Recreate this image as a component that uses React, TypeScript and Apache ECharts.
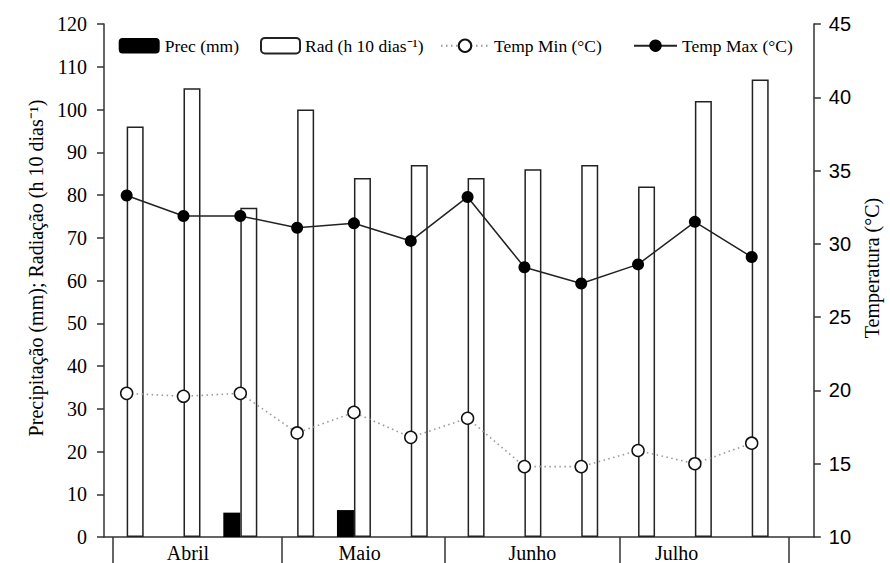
import React, { useEffect, useRef } from 'react';
import * as echarts from 'echarts';

// Ten-day periods (decêndios), April to July
const dekads = ['Abr-1', 'Abr-2', 'Abr-3', 'Mai-1', 'Mai-2', 'Mai-3', 'Jun-1', 'Jun-2', 'Jun-3', 'Jul-1', 'Jul-2', 'Jul-3'];
const months = ['Abril', 'Maio', 'Junho', 'Julho'];

const prec = [0, 0, 5.7, 0, 6.3, 0, 0, 0, 0, 0, 0, 0];
const rad = [96, 105, 77, 100, 84, 87, 84, 86, 87, 82, 102, 107];
const tempMin = [19.8, 19.6, 19.8, 17.1, 18.5, 16.8, 18.1, 14.8, 14.8, 15.9, 15.0, 16.4];
const tempMax = [33.3, 31.9, 31.9, 31.1, 31.4, 30.2, 33.2, 28.4, 27.3, 28.6, 31.5, 29.1];

const SERIF = 'Liberation Serif';
const SANS = 'Liberation Sans';
const NB = '\u00A0\u00A0\u00A0\u00A0\u00A0';

export default function App() {
  const ref = useRef<HTMLDivElement>(null);

  useEffect(() => {
    if (!ref.current) return;
    const chart = echarts.init(ref.current, undefined, { renderer: 'svg' });

    const xMin = -0.399;
    const xMax = 12.094;
    const monthSeparators = [-0.253, 2.726, 5.597, 8.686, 11.646];
    const monthLabelPos = [1.078, 4.1, 7.14, 9.68];
    const axisColor = '#333';
    const axisLine = { show: true, onZero: false, lineStyle: { color: axisColor, width: 1.5 } };

    const legendText = { fontFamily: SERIF, fontSize: 17.5, color: '#000' };

    const option: any = {
      animation: false,
      backgroundColor: '#fff',
      textStyle: { fontFamily: SERIF, color: '#000' },
      grid: { left: 104, right: 75.5, top: 24, bottom: 26, containLabel: false },
      legend: [
        { data: ['Prec (mm)'], left: 118.7, top: 36.7, padding: 0, itemWidth: 41, itemHeight: 15.6, textStyle: legendText },
        { data: ['Rad (h 10 dias⁻¹)'], left: 260, top: 36.7, padding: 0, itemWidth: 39, itemHeight: 15.6, textStyle: legendText },
        { data: ['Temp Min (°C)'], left: 440, top: 36.7, padding: 0, itemWidth: 48, itemHeight: 15.6, textStyle: legendText },
        { data: ['Temp Max (°C)'], left: 633, top: 36.7, padding: 0, itemWidth: 43, itemHeight: 15.6, textStyle: legendText },
      ],
      xAxis: [
        {
          type: 'value', min: xMin, max: xMax, position: 'bottom',
          axisLine, axisTick: { show: false }, axisLabel: { show: false }, splitLine: { show: false },
        },
        {
          type: 'value', min: xMin, max: xMax, position: 'bottom',
          axisLine: { show: false, onZero: false },
          axisTick: { show: true, customValues: monthSeparators, length: 26, lineStyle: { color: axisColor, width: 1.5 } },
          axisLabel: {
            show: true,
            customValues: monthLabelPos,
            formatter: (v: number) => {
              const k = monthLabelPos.findIndex((p) => Math.abs(p - v) < 1e-6);
              return k >= 0 ? months[k] : '';
            },
            fontFamily: SERIF, fontSize: 20, color: '#000', margin: 6,
          },
          splitLine: { show: false },
        },
      ],
      yAxis: [
        {
          type: 'value', min: 0, max: 120, interval: 10, position: 'left',
          axisLine, axisTick: { show: true, length: 7, lineStyle: { color: axisColor, width: 1.5 } },
          axisLabel: { fontFamily: SERIF, fontSize: 20, color: '#000', margin: 17 },
          splitLine: { show: false },
          name: NB + 'Precipitação (mm); Radiação (h 10 dias⁻¹)',
          nameLocation: 'middle', nameGap: 56, nameRotate: 90,
          nameTextStyle: { fontFamily: SERIF, fontSize: 20, color: '#000' },
        },
        {
          type: 'value', min: 10, max: 45, interval: 5, position: 'right',
          axisLine, axisTick: { show: true, length: 7, lineStyle: { color: axisColor, width: 1.5 } },
          axisLabel: { fontFamily: SANS, fontSize: 20, color: '#000', margin: 15 },
          splitLine: { show: false },
          name: NB + 'Temperatura (°C)',
          nameLocation: 'middle', nameGap: 46, nameRotate: 90,
          nameTextStyle: { fontFamily: SERIF, fontSize: 20, color: '#000' },
        },
      ],
      series: [
        {
          name: 'Prec (mm)', type: 'bar', xAxisIndex: 0, yAxisIndex: 0,
          barWidth: 17, barGap: '0%',
          itemStyle: { color: '#000' },
          data: prec.map((v, i) => [i, v]),
        },
        {
          name: 'Rad (h 10 dias⁻¹)', type: 'bar', xAxisIndex: 0, yAxisIndex: 0,
          barWidth: 17, barGap: '0%',
          itemStyle: { color: '#fff', borderColor: '#222', borderWidth: 1.5 },
          data: rad.map((v, i) => [i, v]),
        },
        {
          name: 'Temp Min (°C)', type: 'line', xAxisIndex: 0, yAxisIndex: 1,
          symbol: 'circle', symbolSize: 12,
          itemStyle: { color: '#fff', borderColor: '#111', borderWidth: 1.5 },
          lineStyle: { color: '#999', width: 1.6, type: [1.5, 3.5] },
          data: tempMin.map((v, i) => [i, v]),
          z: 5,
        },
        {
          name: 'Temp Max (°C)', type: 'line', xAxisIndex: 0, yAxisIndex: 1,
          symbol: 'circle', symbolSize: 12,
          itemStyle: { color: '#000' },
          lineStyle: { color: '#222', width: 1.5 },
          data: tempMax.map((v, i) => [i, v]),
          z: 5,
        },
      ],
    };

    chart.setOption(option);
    return () => chart.dispose();
  }, []);

  return (
    <div
      ref={ref}
      data-periods={dekads.length}
      style={{ position: 'fixed', left: 0, top: 0, width: 890, height: 563, background: '#fff' }}
    />
  );
}
